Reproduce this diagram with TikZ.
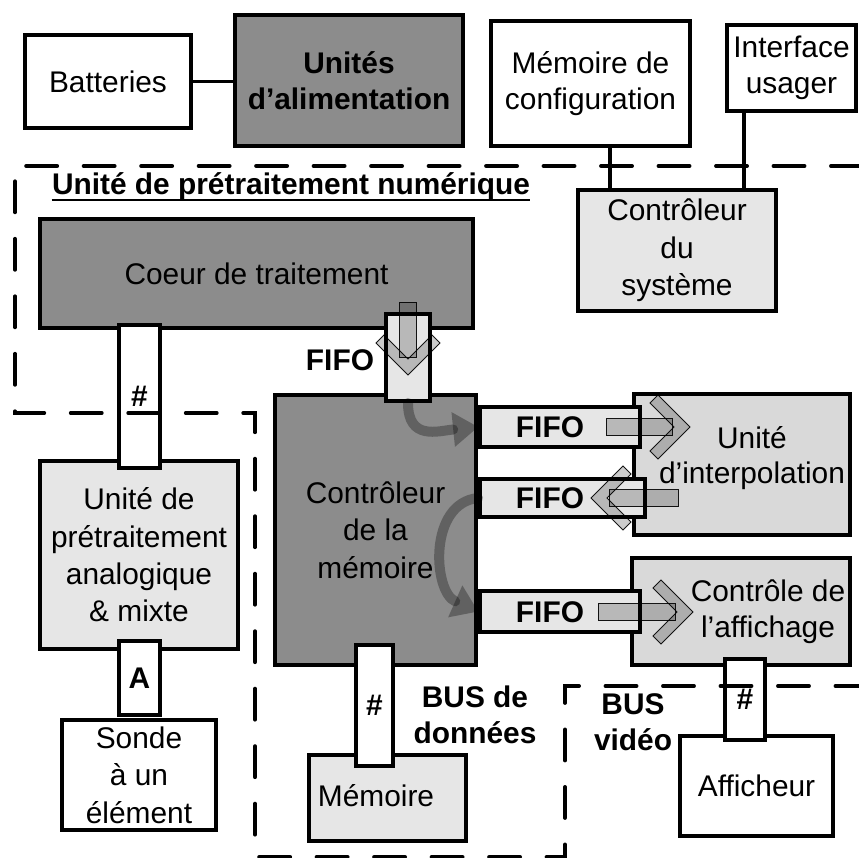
\documentclass[tikz,border=0pt]{standalone}
\usepackage{fontspec}
\setmainfont{Liberation Sans}
\usetikzlibrary{arrows.meta}
\definecolor{DarkUnit}{RGB}{140,140,140}
\definecolor{LightUnit}{RGB}{230,230,230}
\definecolor{MidUnit}{RGB}{217,217,217}

% wide block arrow, tip at the origin, pointing along +x; #1 = length
\tikzset{
  fatarr/.style={fill=black,fill opacity=0.2,draw=black,draw opacity=0.9,line width=0.5pt},
  fatarrow/.pic={
    \path[fatarr] (-#1,-8.5) rectangle (-18,8.5);
    \path[fatarr] (0,0) -- (-32,-32) -- (-40,-24) -- (-16,0) -- (-40,24) -- (-32,32) -- cycle;
  }
}

\begin{document}
\begin{tikzpicture}[x=0.02cm,y=-0.02cm,
  every node/.style={font=\fontsize{17}{20.3}\selectfont},
  unit/.style={draw,line width=2.2pt,inner sep=0pt,align=center},
  whitebox/.style={unit,fill=white},
  darkbox/.style={unit,fill=DarkUnit},
  lightbox/.style={unit,fill=LightUnit},
  midbox/.style={unit,fill=MidUnit},
  tag/.style={font=\fontsize{17}{20.3}\selectfont\bfseries,align=center,inner sep=0pt},
  txt/.style={align=center,inner sep=0pt},
  link/.style={line width=2.2pt},
  zone/.style={line width=2.2pt,dash pattern=on 0.62cm off 0.53cm,line cap=round},
  flow/.style={line width=0.2cm,draw=black,opacity=0.3,line cap=round,
    -{Triangle[length=0.5cm,width=0.7cm,line width=0pt 0]}}
]
\useasboundingbox (0,0) rectangle (859,858);

% power and configuration
\node[whitebox,minimum width=3.32cm,minimum height=1.86cm] (batt) at (108,81.5) {Batteries};
\node[darkbox,font=\fontsize{17}{20.3}\selectfont\bfseries,minimum width=4.56cm,minimum height=2.62cm] (alim) at (349,80.5) {Unités\\d’alimentation};
\node[whitebox,minimum width=3.98cm,minimum height=2.5cm] (memcfg) at (590.5,83.5) {Mémoire de\\configuration};
\node[whitebox,minimum width=2.58cm,minimum height=1.72cm] (ui) at (791.5,68) {Interface\\usager};
\node[lightbox,minimum width=3.96cm,minimum height=2.42cm] (sysctl) at (677,250.5) {Contrôleur\\[1pt]du\\[1pt]système};

\draw[link] (batt.east) -- (batt.east -| alim.west);
\draw[link] (memcfg.south -| 610,0) -- (sysctl.north -| 610,0);
\draw[link] (ui.south -| 744,0) -- (sysctl.north -| 744,0);

% digital part
\node[tag] (title) at (291,187) {Unité de prétraitement numérique};
\draw[line width=1.1pt] ([yshift=-3pt]title.base west) -- ([yshift=-3pt]title.base east);
\node[darkbox,minimum width=8.66cm,minimum height=2.18cm] (core) at (256.5,273.5) {Coeur de traitement};
\node[darkbox,minimum width=4.02cm,minimum height=5.4cm] (memctl) at (375.5,530) {Contrôleur\\[1pt]de la\\[1pt]mémoire};

\node[midbox,minimum width=4.32cm,minimum height=2.82cm] (interp) at (742,464.5) {};
\node[txt] (interptxt) at (752,458) {Unité\\d’interpolation};
\node[midbox,minimum width=4.36cm,minimum height=2.14cm] (affctl) at (741,611.5) {};
\node[txt] (affctltxt) at (768,612) {Contrôle de\\l’affichage};

\node[lightbox,minimum width=0.88cm,minimum height=1.74cm] (fifoT) at (408,357.5) {};
\node[tag] (fifoTlbl) at (340,360) {FIFO};
\node[lightbox,minimum width=3.2cm,minimum height=0.8cm] (fifo1) at (560,427) {};
\node[tag] (fifo1lbl) at (550,427) {FIFO};
\node[lightbox,minimum width=3.3cm,minimum height=0.76cm] (fifo2) at (562.5,498) {};
\node[tag] (fifo2lbl) at (550,498) {FIFO};
\node[lightbox,minimum width=3.2cm,minimum height=0.82cm] (fifo3) at (560,611.5) {};
\node[tag] (fifo3lbl) at (550,612) {FIFO};

% data moves through the FIFOs
\pic[rotate=-90] at (408,375) {fatarrow=73};
\pic at (690,427) {fatarrow=84};
\pic[rotate=180] at (591,498) {fatarrow=87};
\pic at (693,612) {fatarrow=95};
\draw[flow] (fifoT.south) .. controls +(0,38) and +(-40,4) .. (fifo1.west);
\draw[flow] (fifo2.west) .. controls +(-50,5) and +(-45,-20) .. (fifo3.west);

% analog front end
\node[lightbox,minimum width=3.96cm,minimum height=3.76cm] (ana) at (139,555) {Unité de\\[1pt]prétraitement\\[1pt]analogique\\[1pt]\& mixte};
\node[whitebox,minimum width=3.08cm,minimum height=2.2cm] (sonde) at (139,775) {Sonde\\[1pt]à un\\[1pt]élément};
\node[whitebox,minimum width=0.82cm,minimum height=2.86cm] (hashL) at (139.5,396.5) {\bfseries\#};
\node[whitebox,minimum width=0.82cm,minimum height=1.48cm] (aconn) at (139.5,678) {\bfseries A};

% memory and display
\node[lightbox,minimum width=3.14cm,minimum height=1.72cm] (mem) at (387.5,798) {};
\node[txt] (memtxt) at (376,796) {Mémoire};
\node[whitebox,minimum width=0.74cm,minimum height=2.42cm] (hashM) at (374.5,705.5) {\bfseries\#};
\node[tag] (busdata) at (475,715) {BUS de\\données};

\node[whitebox,minimum width=3.06cm,minimum height=2cm] (disp) at (756.5,786) {Afficheur};
\node[whitebox,minimum width=0.8cm,minimum height=1.62cm] (hashV) at (745,699.5) {\bfseries\#};
\node[tag] (busvid) at (633,722) {BUS\\vidéo};

% zone borders
\draw[zone] (862,166) -- (15,166) -- (15,413) -- (255,413) -- (255,857) -- (565,857) -- (565,686) -- (862,686);
\end{tikzpicture}
\end{document}
